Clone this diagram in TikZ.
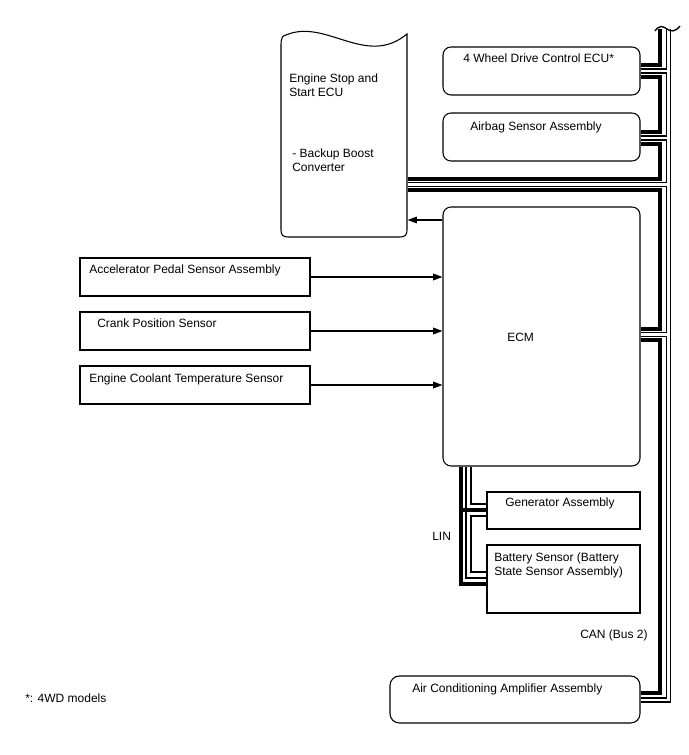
\documentclass[tikz,border=0pt]{standalone}
\usepackage{fontspec}
\setmainfont{Liberation Sans}
\usetikzlibrary{arrows.meta,fit}
\begin{document}
\begin{tikzpicture}[x=0.75pt,y=-0.75pt,
  box/.style={draw, line width=0.8pt, inner sep=0pt},
  rbox/.style={box, rounded corners=6pt},
  lbl/.style={font=\fontsize{9}{10.5}\selectfont, inner sep=0pt, anchor=base west},
  sig/.style={line width=0.8pt, -{Triangle[length=7pt,width=5pt]}},
  wireA/.style={line width=2.6pt},
  wireBo/.style={line width=4.4pt},
  wireBi/.style={line width=2pt, white},
  linthick/.style={line width=2.5pt},
  linmid/.style={line width=1.6pt},
  linthin/.style={line width=1pt}
]
\useasboundingbox (0,0) rectangle (688,755);

% boxes
\node[box, draw=none, fit={(281,34) (407,237)}] (es) {};
\draw[line width=0.8pt] (281,44) .. controls (281,38) and (283,35) .. (286,35)
  .. controls (326,18) and (366,68) .. (407,34) -- (407,230)
  .. controls (407,235) and (405,237) .. (400,237) -- (288,237)
  .. controls (283,237) and (281,235) .. (281,230) -- cycle;
\node[rbox, fit={(443,47) (640,95)}] (wd) {};
\node[rbox, fit={(443,113) (640,161)}] (ab) {};
\node[rbox, fit={(443,207) (640,466)}] (ecm) {};
\node[box, fit={(80,258) (310,296)}] (acc) {};
\node[box, fit={(80,312) (310,350)}] (crk) {};
\node[box, fit={(80,366) (310,404)}] (ect) {};
\node[box, fit={(487,492) (640,529)}] (gen) {};
\node[box, fit={(487,545) (640,613)}] (bat) {};
\node[rbox, rounded corners=7pt, fit={(390,676) (640,723)}] (ac) {};

% texts
\node[lbl] (t1) at (289,83) {Engine Stop and};
\node[lbl] (t2) at (289,97) {Start ECU};
\node[lbl] (t3) at (292,158) {- Backup Boost};
\node[lbl] (t4) at (292,172) {Converter};
\node[lbl] (t5) at (463,63) {4 Wheel Drive Control ECU*};
\node[lbl] (t6) at (470,131) {Airbag Sensor Assembly};
\node[lbl] (t7) at (507,341) {ECM};
\node[lbl] (t8) at (89,273) {Accelerator Pedal Sensor Assembly};
\node[lbl] (t9) at (97,327) {Crank Position Sensor};
\node[lbl] (t10) at (89,382) {Engine Coolant Temperature Sensor};
\node[lbl] (t11) at (505,506) {Generator Assembly};
\node[lbl] (t12) at (494,561) {Battery Sensor (Battery};
\node[lbl] (t13) at (494,575) {State Sensor Assembly)};
\node[lbl] (t14) at (432,540) {LIN};
\node[lbl] (t15) at (580,638) {CAN (Bus 2)};
\node[lbl] (t16) at (412,692) {Air Conditioning Amplifier Assembly};
\node[lbl] (t17) at (25,702) {*: 4WD models};

% signal arrows
\draw[sig] (acc.east) -- (ecm.west |- acc.east);
\draw[sig] (crk.east) -- (ecm.west |- crk.east);
\draw[sig] (ect.east) -- (ecm.west |- ect.east);
\draw[sig] (ecm.west |- 0,220) -- (es.east |- 0,220);

% CAN bus, wire B (double line)
\foreach \st in {wireBo,wireBi}{
  \draw[\st] (668.5,29) -- (668.5,700) -- (ac.east |- 0,700);
  \draw[\st] (wd.east |- 0,71) -- (668.5,71);
  \draw[\st] (ab.east |- 0,138) -- (668.5,138);
  \draw[\st] (es.east |- 0,184.5) -- (668.5,184.5);
  \draw[\st] (ecm.east |- 0,334.5) -- (668.5,334.5);
}
% CAN bus, wire A (thick, daisy chain)
\draw[wireA] (660,29) -- (660,65) -- (wd.east |- 0,65);
\draw[wireA] (wd.east |- 0,77) -- (660,77) -- (660,132) -- (ab.east |- 0,132);
\draw[wireA] (ab.east |- 0,144) -- (660,144) -- (660,179) -- (es.east |- 0,179);
\draw[wireA] (es.east |- 0,190) -- (660,190) -- (660,329) -- (ecm.east |- 0,329);
\draw[wireA] (ecm.east |- 0,340) -- (660,340) -- (660,693) -- (ac.east |- 0,693);
% break mark
\draw[line width=1pt] (655,31) .. controls (659,25) and (663,26) .. (667,29)
  .. controls (671,32) and (675,32) .. (680,26);

% LIN
\draw[linthick] (ecm.south -| 461,0) -- (461,584) -- (bat.west |- 0,584);
\draw[linthick] (461,510) -- (gen.west |- 0,510);
\draw[linthin] (ecm.south -| 466,0) -- (466,510);
\draw[linmid] (466,510) -- (466,578) -- (bat.west |- 0,578);
\draw[linthin] (ecm.south -| 471,0) -- (471,504) -- (gen.west |- 0,504);
\draw[linthin] (gen.west |- 0,516) -- (471,516) -- (471,572) -- (bat.west |- 0,572);
\end{tikzpicture}
\end{document}
